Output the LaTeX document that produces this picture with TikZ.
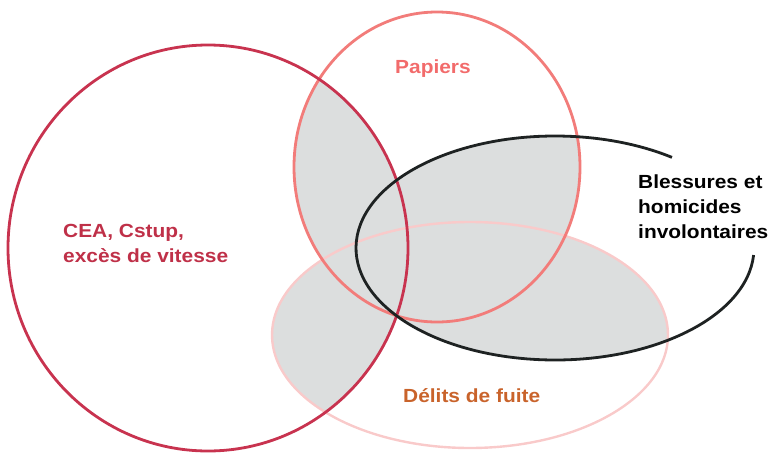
\documentclass[tikz,border=0pt]{standalone}
\usepackage{fontspec}
\setmainfont{Liberation Sans}[FakeStretch=1.1]
\definecolor{cred}{HTML}{C8334F}
\definecolor{cpink}{HTML}{F27C7A}
\definecolor{clight}{HTML}{F9CACA}
\definecolor{cblack}{HTML}{1E2222}
\definecolor{cgray}{HTML}{DCDEDE}
\definecolor{tred}{HTML}{BF3048}
\definecolor{tpink}{HTML}{F26B6B}
\definecolor{torange}{HTML}{C9632B}
\begin{document}
\begin{tikzpicture}[x=1pt,y=-1pt,
  lab/.style={font=\fontsize{19}{25}\selectfont\bfseries, inner sep=0pt, align=left, anchor=base west},
  outline/.style={line width=2.8pt}]
\useasboundingbox (0,0) rectangle (773,453);
\def\pR{(208,248) ellipse [x radius=200, y radius=203]}
\def\pP{(437,167) ellipse [x radius=143, y radius=155]}
\def\pB{(555,248) ellipse [x radius=199, y radius=112]}
\def\pD{(470,335) ellipse [x radius=198, y radius=113]}
% gray: regions covered by at least two sets
\begin{scope}\clip \pR; \fill[cgray] \pP; \end{scope}
\begin{scope}\clip \pR; \fill[cgray] \pB; \end{scope}
\begin{scope}\clip \pR; \fill[cgray] \pD; \end{scope}
\begin{scope}\clip \pP; \fill[cgray] \pB; \end{scope}
\begin{scope}\clip \pP; \fill[cgray] \pD; \end{scope}
\begin{scope}\clip \pB; \fill[cgray] \pD; \end{scope}
% outlines
\draw[outline, clight, line width=2.4pt] \pD;
\draw[outline, cpink] \pP;
\draw[outline, cred] \pR;
\coordinate (bc) at (555,248);
\draw[outline, cblack] ([shift={(3.6:199 and 112)}]bc) arc[start angle=3.6, end angle=306, x radius=199, y radius=112];
% labels
\node[lab, text=tpink] (papiers) at (395,73) {Papiers};
\node[lab, text=tred] (cea) at (63,262) {CEA, Cstup,\\excès de vitesse};
\node[lab, text=black] (bless) at (638,238) {Blessures et\\homicides\\involontaires};
\node[lab, text=torange] (delits) at (403,402) {Délits de fuite};
\end{tikzpicture}
\end{document}
